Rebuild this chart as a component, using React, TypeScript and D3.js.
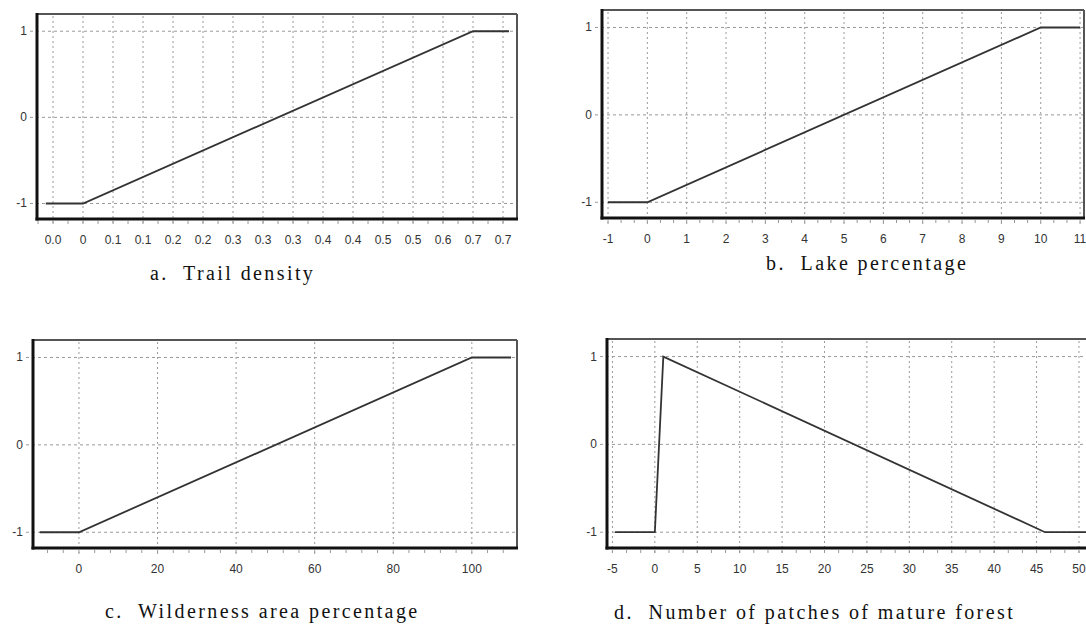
import React from 'react';
import * as d3 from 'd3';

// ---- data ----
const trailTicks = [-0.05, 0, 0.05, 0.1, 0.15, 0.2, 0.25, 0.3, 0.35, 0.4, 0.45, 0.5, 0.55, 0.6, 0.65, 0.7];
const trailLabels = ['0.0', '0', '0.1', '0.1', '0.2', '0.2', '0.3', '0.3', '0.3', '0.4', '0.4', '0.5', '0.5', '0.6', '0.7', '0.7'];
const trailX = [-0.062, 0, 0.65, 0.71];
const trailY = [-1, -1, 1, 1];

const lakeTicks = [-1, 0, 1, 2, 3, 4, 5, 6, 7, 8, 9, 10, 11];
const lakeLabels = ['-1', '0', '1', '2', '3', '4', '5', '6', '7', '8', '9', '10', '11'];
const lakeX = [-1, 0, 10, 11];
const lakeY = [-1, -1, 1, 1];

const wildTicks = [0, 20, 40, 60, 80, 100];
const wildLabels = ['0', '20', '40', '60', '80', '100'];
const wildX = [-10, 0, 100, 110];
const wildY = [-1, -1, 1, 1];

const patchTicks = [-5, 0, 5, 10, 15, 20, 25, 30, 35, 40, 45, 50];
const patchLabels = ['-5', '0', '5', '10', '15', '20', '25', '30', '35', '40', '45', '50'];
const patchX = [-4.7, 0, 1, 46, 51];
const patchY = [-1, -1, 1, -1, -1];

const yTicks = [-1, 0, 1];
const yLabels = ['-1', '0', '1'];

const titles = ['a.  Trail density', 'b.  Lake percentage', 'c.  Wilderness area percentage', 'd.  Number of patches of mature forest'];

// ---- layout ----
const panels = [
  { frame: { l: 37, r: 517, t: 14, b: 219 }, xDomain: [-0.0767, 0.7233], ticks: trailTicks, labels: trailLabels, xs: trailX, ys: trailY, title: titles[0], tx: 150, ty: 280, minor: 2 },
  { frame: { l: 602, r: 1084, t: 10, b: 218 }, xDomain: [-1.153, 11.1], ticks: lakeTicks, labels: lakeLabels, xs: lakeX, ys: lakeY, title: titles[1], tx: 766, ty: 270, minor: 3 },
  { frame: { l: 33, r: 517, t: 340, b: 548 }, xDomain: [-11.7, 111.5], ticks: wildTicks, labels: wildLabels, xs: wildX, ys: wildY, title: titles[2], tx: 105, ty: 618, minor: 5 },
  { frame: { l: 607, r: 1090, t: 339, b: 548 }, xDomain: [-5.64, 51.3], ticks: patchTicks, labels: patchLabels, xs: patchX, ys: patchY, title: titles[3], tx: 614, ty: 619, minor: 3 },
];

const Panel = ({ p }: { p: any }) => {
  const { frame } = p;
  const x = d3.scaleLinear().domain(p.xDomain).range([frame.l, frame.r]);
  const y = d3.scaleLinear().domain([-1.18, 1.2]).range([frame.b, frame.t]);
  const pts: [number, number][] = p.xs.map((v: number, i: number) => [v, p.ys[i]]);
  const line = d3.line<[number, number]>().x(d => x(d[0])).y(d => y(d[1]));

  // minor ticks between majors along bottom
  const step = p.ticks[1] - p.ticks[0];
  const minors: number[] = [];
  const lo = p.ticks[0] - step;
  for (let k = 0; k <= (p.ticks.length + 1) * p.minor; k++) {
    const v = lo + (k * step) / p.minor;
    if (x(v) > frame.l + 1 && x(v) < frame.r - 1) minors.push(v);
  }

  return (
    <g>
      {/* vertical grid */}
      {p.ticks.map((t: number, i: number) => (
        <line key={'vg' + i} x1={x(t)} x2={x(t)} y1={frame.t + 2} y2={frame.b + 6}
          stroke="#9a9a9a" strokeWidth={1} strokeDasharray="2,3" />
      ))}
      {/* horizontal grid */}
      {yTicks.map((t, i) => (
        <line key={'hg' + i} x1={frame.l - 7} x2={frame.r} y1={y(t)} y2={y(t)}
          stroke="#9a9a9a" strokeWidth={1} strokeDasharray="3,3" />
      ))}
      {/* minor ticks */}
      {minors.map((v, i) => (
        <line key={'mt' + i} x1={x(v)} x2={x(v)} y1={frame.b + 2} y2={frame.b + 5} stroke="#999" strokeWidth={1} />
      ))}
      {/* frame */}
      <line x1={frame.l} x2={frame.r} y1={frame.t} y2={frame.t} stroke="#555" strokeWidth={2} />
      <line x1={frame.r} x2={frame.r} y1={frame.t} y2={frame.b} stroke="#555" strokeWidth={2} />
      <line x1={frame.l} x2={frame.l} y1={frame.t - 1} y2={frame.b + 1.5} stroke="#111" strokeWidth={3} />
      <line x1={frame.l - 1.5} x2={frame.r + 1} y1={frame.b} y2={frame.b} stroke="#111" strokeWidth={3} />
      {/* curve */}
      <path d={line(pts) || ''} fill="none" stroke="#333" strokeWidth={1.8} />
      {/* y labels */}
      {yTicks.map((t, i) => (
        <text key={'yl' + i} x={frame.l - 10} y={y(t) + 4} textAnchor="end"
          fontFamily="'Liberation Sans', Arial, sans-serif" fontSize={12} fill="#333">{yLabels[i]}</text>
      ))}
      {/* x labels */}
      {p.ticks.map((t: number, i: number) => (
        <text key={'xl' + i} x={x(t)} y={frame.b + 25} textAnchor="middle"
          fontFamily="'Liberation Sans', Arial, sans-serif" fontSize={12} fill="#333">{p.labels[i]}</text>
      ))}
      {/* title */}
      <text x={p.tx} y={p.ty} fontFamily="'Liberation Serif', 'Times New Roman', serif" fontSize={20}
        letterSpacing={2.4} fill="#111" style={{ whiteSpace: 'pre' }}>{p.title}</text>
    </g>
  );
};

export default function App() {
  return (
    <svg width={1086} height={626} style={{ position: 'fixed', left: 0, top: 0, background: '#fff' }}>
      <rect width={1086} height={626} fill="#fff" />
      {panels.map((p, i) => <Panel key={i} p={p} />)}
    </svg>
  );
}
